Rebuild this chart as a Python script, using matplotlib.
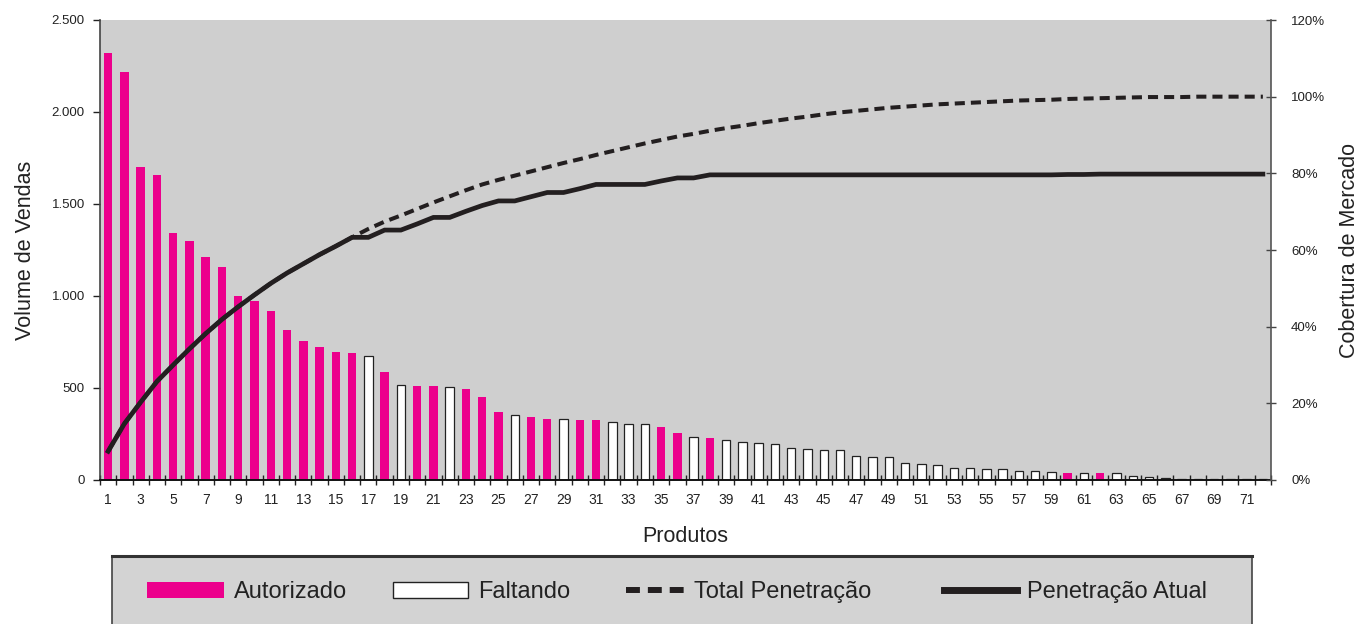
import matplotlib.pyplot as plt
from matplotlib.patches import Patch
from matplotlib.lines import Line2D
from matplotlib.legend import Legend
from matplotlib.ticker import FuncFormatter
import numpy as np

plt.rcParams['font.family'] = ['Liberation Sans', 'DejaVu Sans']

# dados
produtos = list(range(1, 73))
vendas = [2320, 2220, 1700, 1660, 1340, 1300, 1210, 1160, 1000, 975,
          918, 815, 755, 723, 696, 690, 674, 587, 516, 511,
          511, 505, 495, 451, 370, 353, 342, 332, 330, 328,
          324, 313, 306, 306, 286, 255, 234, 228, 217, 207,
          203, 194, 172, 168, 165, 165, 130, 127, 127, 92,
          89, 80, 65, 65, 61, 58, 47, 47, 42, 40,
          38, 40, 38, 22, 19, 9, 8, 5, 5, 3,
          3, 3]
autorizados = [1, 2, 3, 4, 5, 6, 7, 8, 9, 10, 11, 12, 13, 14, 15, 16,
               18, 20, 21, 23, 24, 25, 27, 28, 30, 31, 35, 36, 38, 60, 62]
total_pen = [7.5, 14.7, 20.3, 25.7, 30.0, 34.2, 38.2, 41.9, 45.2, 48.3,
             51.3, 54.0, 56.4, 58.8, 61.0, 63.3, 65.5, 67.4, 69.0, 70.7,
             72.4, 74.0, 75.6, 77.1, 78.3, 79.4, 80.5, 81.6, 82.7, 83.7,
             84.8, 85.8, 86.8, 87.8, 88.7, 89.6, 90.3, 91.1, 91.8, 92.4,
             93.1, 93.7, 94.3, 94.8, 95.4, 95.9, 96.3, 96.7, 97.1, 97.4,
             97.7, 98.0, 98.2, 98.4, 98.6, 98.8, 99.0, 99.1, 99.2, 99.4,
             99.5, 99.6, 99.7, 99.8, 99.9, 99.9, 99.9, 100, 100, 100,
             100, 100]
atual_pen = [7.5, 14.7, 20.3, 25.7, 30.0, 34.2, 38.2, 41.9, 45.2, 48.3,
             51.3, 54.0, 56.4, 58.8, 61.0, 63.3, 63.3, 65.2, 65.2, 66.8,
             68.5, 68.5, 70.1, 71.6, 72.8, 72.8, 73.9, 75.0, 75.0, 76.0,
             77.1, 77.1, 77.1, 77.1, 78.0, 78.8, 78.8, 79.6, 79.6, 79.6,
             79.6, 79.6, 79.6, 79.6, 79.6, 79.6, 79.6, 79.6, 79.6, 79.6,
             79.6, 79.6, 79.6, 79.6, 79.6, 79.6, 79.6, 79.6, 79.6, 79.7,
             79.7, 79.8, 79.8, 79.8, 79.8, 79.8, 79.8, 79.8, 79.8, 79.8,
             79.8, 79.8]

rosa = '#EC008C'
preto = '#231F20'
fundo = '#CFCFCF'

fig = plt.figure(figsize=(13.59, 6.24), dpi=100)
ax = fig.add_axes([100 / 1359, 1 - 480 / 624, 1171 / 1359, 460 / 624])
ax.set_facecolor(fundo)

x = np.array(produtos)
v = np.array(vendas)
aut = np.isin(x, autorizados)
ax.bar(x[aut], v[aut], width=0.52, color=rosa, edgecolor='none', zorder=2)
ax.bar(x[~aut], v[~aut], width=0.52, color='white', edgecolor='#222222', linewidth=0.9, zorder=2)

ax.set_xlim(0.5, 72.5)
ax.set_ylim(0, 2500)
ax.set_yticks([0, 500, 1000, 1500, 2000, 2500])
ax.yaxis.set_major_formatter(FuncFormatter(lambda val, p: f'{val:,.0f}'.replace(',', '.')))
ax.set_xticks(np.arange(0.5, 73, 1))
ax.set_xticklabels([])
ax.set_xticks(np.arange(1, 72, 2), minor=True)
ax.set_xticklabels([str(i) for i in range(1, 72, 2)], minor=True)
ax.tick_params(axis='x', which='major', direction='inout', length=7, width=1, color='#222222')
ax.tick_params(axis='x', which='minor', length=0, pad=9, labelsize=10, labelcolor='#222222')
ax.tick_params(axis='y', direction='out', length=5, width=1, color='#222222', labelsize=9.5,
               labelcolor='#222222', pad=6)
for s in ['top', 'right']:
    ax.spines[s].set_visible(False)
ax.spines['left'].set_color('#444444')
ax.spines['left'].set_linewidth(1.2)
ax.spines['bottom'].set_color('#111111')
ax.spines['bottom'].set_linewidth(1.4)
ax.set_xlabel('Produtos', fontsize=15.5, color='#222222', labelpad=14)
ax.set_ylabel('Volume de Vendas', fontsize=15.5, color='#222222', labelpad=11)

ax2 = ax.twinx()
ax2.plot(x, np.array(total_pen) / 100, color=preto, lw=2.9, dashes=(2.5, 1.5), zorder=3)
ax2.plot(x, np.array(atual_pen) / 100, color=preto, lw=3.4, zorder=4, solid_joinstyle='miter')
ax2.set_ylim(0, 1.2)
ax2.set_yticks(np.arange(0, 1.21, 0.2))
ax2.yaxis.set_major_formatter(FuncFormatter(lambda val, p: f'{val * 100:.0f}%'))
ax2.tick_params(axis='y', direction='inout', length=7, width=1, color='#444444', labelsize=9.5,
                labelcolor='#222222', pad=11)
for s in ['top', 'left', 'bottom']:
    ax2.spines[s].set_visible(False)
ax2.spines['right'].set_color('#555555')
ax2.spines['right'].set_linewidth(1.2)
ax2.set_ylabel('Cobertura de Mercado', fontsize=15.5, color='#222222', labelpad=10)

# caixa da legenda
lax = fig.add_axes([112 / 1359, 0, 1140 / 1359, 68 / 624])
lax.set_facecolor('#D3D3D3')
lax.set_xticks([])
lax.set_yticks([])
lax.spines['bottom'].set_visible(False)
lax.spines['top'].set_linewidth(2.2)
lax.spines['top'].set_color('#333333')
for s in ['left', 'right']:
    lax.spines[s].set_color('#444444')
    lax.spines[s].set_linewidth(1.2)

itens = [
    (Patch(facecolor=rosa, edgecolor='none'), 'Autorizado', 0.0307, 3.26),
    (Patch(facecolor='white', edgecolor='#222222', linewidth=1), 'Faltando', 0.2465, 3.18),
    (Line2D([], [], color=preto, lw=4.3, dashes=(2.33, 1.33)), 'Total Penetração', 0.4509, 2.46),
    (Line2D([], [], color=preto, lw=5.0), 'Penetração Atual', 0.7298, 3.1),
]
for h, lbl, pos, hl in itens:
    leg = Legend(lax, [h], [lbl], loc='center left', bbox_to_anchor=(pos, 0.47), frameon=False,
                 fontsize=17, handlelength=hl, handleheight=0.68, handletextpad=0.42,
                 borderpad=0, borderaxespad=0, labelcolor='#222222')
    lax.add_artist(leg)

fig.savefig('out.png', dpi=100)
